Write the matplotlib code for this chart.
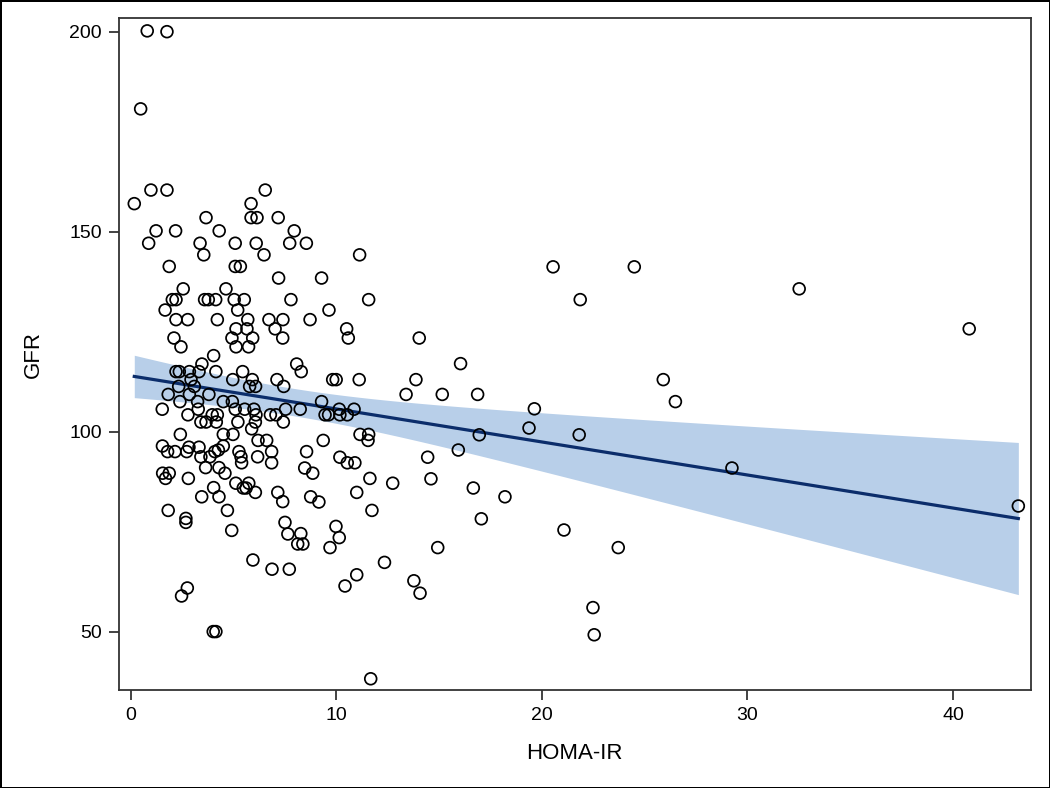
import numpy as np
import matplotlib
matplotlib.use("Agg")
import matplotlib.pyplot as plt

plt.rcParams['font.family'] = ['Liberation Sans', 'DejaVu Sans']

# HOMA-IR (x) and GFR (y)
homa = [
    0.81, 1.77, 0.49, 0.99, 1.77, 6.55, 0.18, 5.86, 3.67, 5.86, 6.15, 7.18,
    1.24, 2.19, 4.31, 7.96,
    0.88, 3.38, 5.09, 6.11, 7.74, 8.55,
    3.56, 6.49, 11.14,
    1.88, 5.09, 5.34,
    7.20, 9.29,
    2.56, 4.64,
    2.03, 2.21, 3.60, 3.78, 4.14, 5.04, 5.53, 7.80, 11.58,
    1.68, 5.21, 9.65,
    2.21, 2.78, 4.22, 5.70, 6.73, 7.41, 8.73,
    5.13, 5.66, 7.03, 10.51,
    2.11, 4.93, 5.94, 7.40, 10.59, 14.04,
    2.45, 5.13, 5.74,
    4.04,
    3.47, 8.08, 16.05,
    2.21, 2.37, 2.86, 3.33, 4.15, 5.45, 8.30,
    2.94, 4.97, 5.92, 7.12, 9.83, 10.00, 11.12, 13.88, 25.91,
    2.34, 3.10, 5.79, 6.08, 7.45,
    1.83, 2.86, 3.81, 13.40, 15.16, 16.88,
    2.40, 3.26, 4.51, 4.95, 9.29, 26.50,
    1.54, 3.29, 5.09, 5.55, 6.00, 7.54, 8.25, 10.15, 10.87, 19.64,
    2.79, 3.97, 4.22, 6.10, 6.80, 7.07, 9.46, 9.63, 10.18, 10.54,
    3.42, 3.67, 4.17, 5.22, 6.07, 7.43,
    5.89, 19.38,
    2.42, 4.51, 4.98, 11.16, 11.58, 16.96, 21.82,
    6.20, 6.62, 9.37, 11.55,
    1.55, 4.51, 2.84, 3.33,
    1.80, 2.16, 2.73, 4.10, 4.27, 5.27, 6.86, 8.56, 15.94,
    3.42, 3.86, 5.37, 6.18, 10.18, 14.45,
    5.40, 6.86, 10.54, 10.91,
    3.65, 4.30, 8.47, 29.25,
    1.56, 1.88, 4.59, 8.86,
    1.70, 2.81, 11.64, 14.61,
    5.12, 5.48, 5.62, 5.75, 12.75,
    4.04, 16.67,
    6.07, 7.16, 11.00,
    3.46, 4.30, 8.76, 18.21,
    7.40, 9.16,
    43.18,
    1.83, 4.71, 11.74,
    2.69, 17.06,
    2.69, 7.51,
    9.99,
    4.92, 21.08,
    7.65, 8.28,
    10.15,
    8.13, 8.38,
    9.70, 14.94, 23.72,
    5.95, 12.35,
    6.88, 7.72,
    11.00, 13.78, 10.43, 2.76, 14.08, 2.48, 22.49,
    4.02, 4.15, 22.55, 11.68,
    20.55, 24.50, 21.87, 32.52, 40.79,
]
gfr = [
    200.2, 200.0, 180.7, 160.4, 160.4, 160.4, 157.0, 157.0, 153.5, 153.5, 153.5, 153.5,
    150.2, 150.2, 150.2, 150.2,
    147.1, 147.1, 147.1, 147.1, 147.1, 147.1,
    144.2, 144.2, 144.2,
    141.3, 141.3, 141.3,
    138.4, 138.4,
    135.7, 135.7,
    133.0, 133.0, 133.0, 133.0, 133.0, 133.0, 133.0, 133.0, 133.0,
    130.4, 130.4, 130.4,
    128.0, 128.0, 128.0, 128.0, 128.0, 128.0, 128.0,
    125.7, 125.7, 125.7, 125.7,
    123.4, 123.4, 123.4, 123.4, 123.4, 123.4,
    121.2, 121.2, 121.2,
    119.0,
    116.9, 116.9, 117.0,
    115.0, 115.0, 115.0, 115.0, 115.0, 115.0, 115.0,
    113.0, 113.0, 113.0, 113.0, 113.0, 113.0, 113.0, 113.0, 113.0,
    111.3, 111.3, 111.3, 111.3, 111.3,
    109.3, 109.3, 109.3, 109.3, 109.3, 109.3,
    107.5, 107.5, 107.5, 107.5, 107.5, 107.5,
    105.6, 105.6, 105.6, 105.6, 105.6, 105.6, 105.6, 105.6, 105.6, 105.7,
    104.2, 104.2, 104.2, 104.2, 104.2, 104.2, 104.2, 104.2, 104.2, 104.2,
    102.4, 102.4, 102.4, 102.4, 102.4, 102.4,
    100.7, 100.9,
    99.3, 99.3, 99.3, 99.3, 99.3, 99.2, 99.2,
    97.8, 97.8, 97.8, 97.8,
    96.4, 96.4, 96.1, 96.1,
    95.0, 95.0, 95.0, 95.0, 95.4, 95.0, 95.0, 95.0, 95.4,
    93.7, 93.7, 93.7, 93.7, 93.6, 93.6,
    92.2, 92.2, 92.2, 92.2,
    91.0, 91.0, 90.9, 90.9,
    89.6, 89.6, 89.6, 89.6,
    88.3, 88.3, 88.3, 88.2,
    87.1, 85.9, 85.9, 87.1, 87.1,
    86.0, 85.9,
    84.8, 84.8, 84.8,
    83.7, 83.7, 83.7, 83.7,
    82.5, 82.4,
    81.4,
    80.3, 80.3, 80.3,
    78.3, 78.2,
    77.3, 77.3,
    76.3,
    75.3, 75.4,
    74.4, 74.5,
    73.5,
    71.9, 71.9,
    71.0, 71.0, 71.0,
    67.9, 67.3,
    65.6, 65.6,
    64.2, 62.7, 61.4, 60.9, 59.6, 58.9, 56.0,
    50.0, 50.0, 49.2, 38.2,
    141.2, 141.2, 133.0, 135.7, 125.7,
]

x = np.array(homa)
y = np.array(gfr)
n = len(x)

# simple linear fit with 95% confidence band for the mean
b, a = np.polyfit(x, y, 1)
xs = np.linspace(x.min(), x.max(), 200)
yhat = a + b * xs
resid = y - (a + b * x)
s = np.sqrt(np.sum(resid ** 2) / (n - 2))
se = s * np.sqrt(1.0 / n + (xs - x.mean()) ** 2 / np.sum((x - x.mean()) ** 2))
t = 1.97

fig = plt.figure(figsize=(10.5, 7.88), dpi=100)
ax = fig.add_axes([0.113, 0.1244, 0.8686, 0.8524])

ax.fill_between(xs, yhat - t * se, yhat + t * se, color='#b8cfe9', lw=0, zorder=1)
ax.plot(xs, yhat, color='#0b2d6b', lw=2.3, zorder=2)
ax.scatter(x, y, s=72, facecolors='none', edgecolors='black', linewidths=1.25, zorder=3)

ax.set_xlim(-0.58, 43.78)
ax.set_ylim(35.4, 203.35)
ax.set_xticks([0, 10, 20, 30, 40])
ax.set_yticks([50, 100, 150, 200])
ax.tick_params(direction='out', length=7, width=1.2, labelsize=14, colors='#222222',
               labelcolor='black', pad=5)
for sp in ax.spines.values():
    sp.set_color('#333333')
    sp.set_linewidth(1.3)

ax.set_xlabel('HOMA-IR', fontsize=16, labelpad=14)
ax.set_ylabel('GFR', fontsize=16, labelpad=18)

fig.patch.set_edgecolor('black')
fig.patch.set_linewidth(2)

fig.savefig('out.png', dpi=100, edgecolor=fig.get_edgecolor())
